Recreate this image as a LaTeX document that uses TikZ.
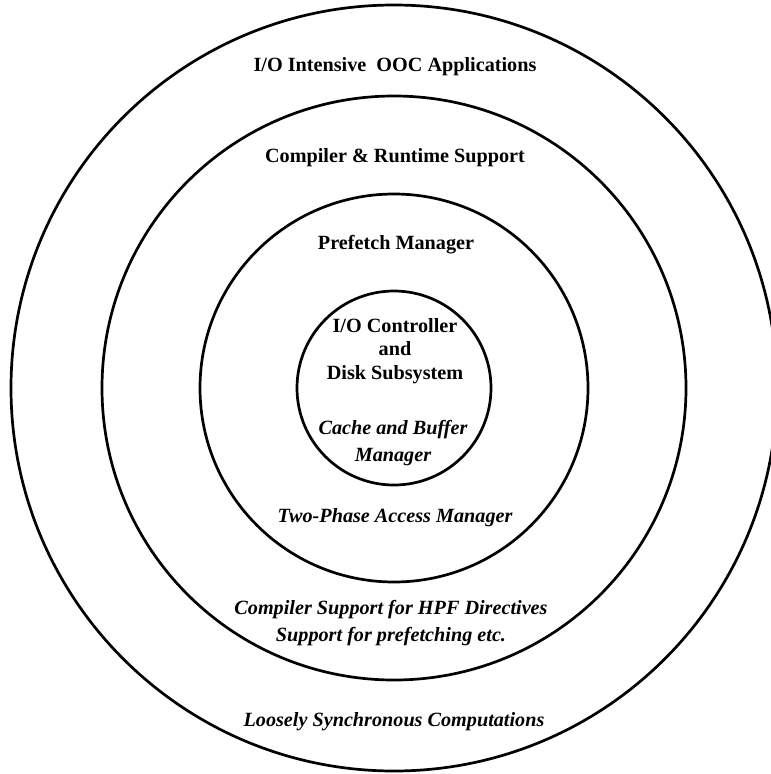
\documentclass[tikz,border=0pt]{standalone}
\usepackage{fontspec}
\setmainfont{Liberation Serif}
\usetikzlibrary{positioning}
\tikzset{
	ring/.style={
		circle,
		draw,
		line width=2.7pt,
		inner sep=0pt
	},
	layer/.style={
		align=center,
		inner sep=0pt,
		font=\fontsize{20.2}{23.5}\selectfont\bfseries
	},
	service/.style={
		align=center,
		inner sep=0pt,
		font=\fontsize{20.2}{27}\selectfont\bfseries\itshape
	}
}

\begin{document}
\begin{tikzpicture}[x=1pt,y=1pt]
		\useasboundingbox (0,0) rectangle (771,-774);
		\clip (0,0) rectangle (771,-774);
		\coordinate (Center) at (394,-388);
		
		\draw node[ring, minimum size=766] (Apps) at (Center) {};
		\draw node[ring, minimum size=584] (Compiler) at (Center) {};
		\draw node[ring, minimum size=388] (Prefetch) at (Center) {};
		\draw node[ring, minimum size=194] (Disk) at (Center) {};
		
		\draw node[layer] (AppsText) at (395,-67) {I/O Intensive~~OOC Applications};
		\draw node[layer] (CompilerText) at (395,-158) {Compiler \& Runtime Support};
		\draw node[layer] (PrefetchText) at (396,-245) {Prefetch Manager};
		\draw node[layer] (DiskText) at (395,-351) {I/O Controller\\ and\\ Disk Subsystem};
		
		\draw node[service] (Cache) at (393,-443) {Cache and Buffer\\ Manager};
		\draw node[service] (TwoPhase) at (395,-518) {Two-Phase Access Manager};
		\draw node[service] (HPF) at (391,-623) {Compiler Support for HPF Directives\\ Support for prefetching etc.};
		\draw node[service] (Loosely) at (394,-722) {Loosely Synchronous Computations};
	\end{tikzpicture}
\end{document}
